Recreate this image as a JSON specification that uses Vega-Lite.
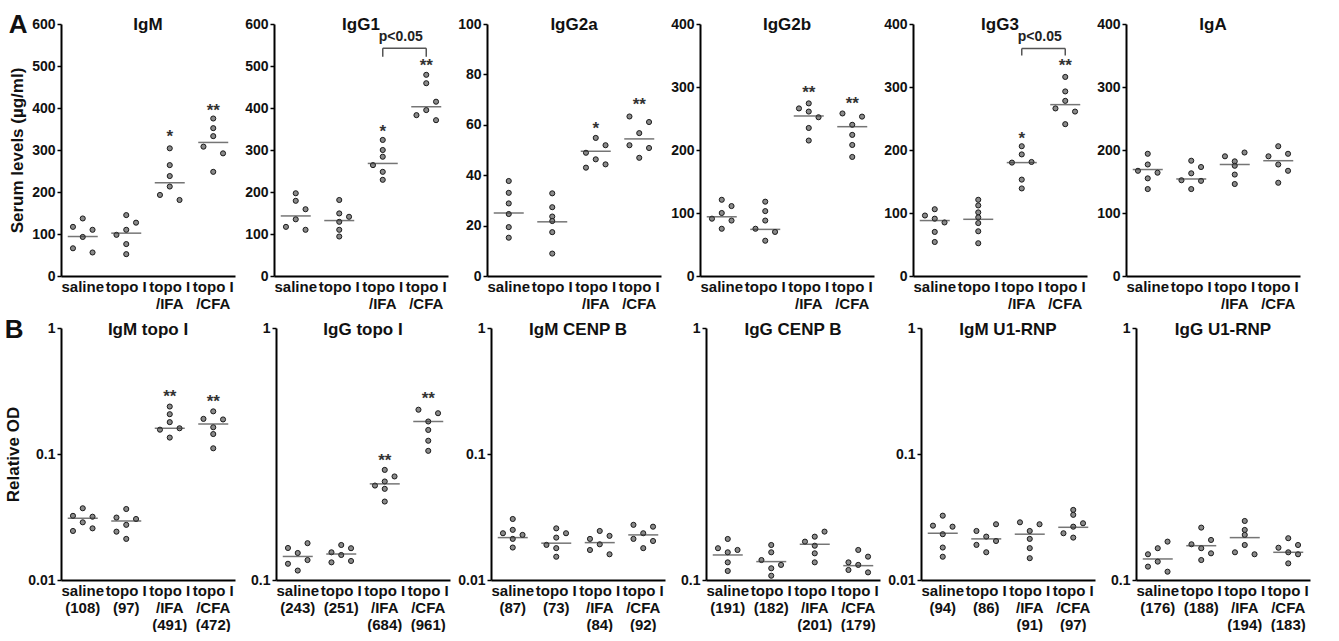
{
"$schema":"https://vega.github.io/schema/vega-lite/v6.json",
"padding":{"left":4,"top":12,"right":5,"bottom":0},
"background":"white",
"config":{
 "font":"Liberation Sans",
 "view":{"stroke":null},
 "title":{"fontSize":17,"fontWeight":"bold","color":"#111","font":"Liberation Sans"},
 "axis":{"domainColor":"#000","domainWidth":2,"grid":false,"labelFont":"Liberation Sans","labelFontWeight":"bold","labelColor":"#111","titleFont":"Liberation Sans","titleFontWeight":"bold","titleColor":"#111","titleFontSize":17,"labelOverlap":false,"labelBound":false},
 "axisX":{"ticks":false,"labelAngle":0,"labelFontSize":15,"labelPadding":3,"labelLineHeight":17,"labelBaseline":"top"},
 "axisY":{"tickSize":4,"tickWidth":1.5,"tickColor":"#000","labelFontSize":14,"labelPadding":2,"titlePadding":5}
},
"data":{"values":[
{"p":"IgM","k":"pt","g":"s","v":137,"j":1},{"p":"IgM","k":"pt","g":"s","v":117,"j":0},{"p":"IgM","k":"pt","g":"s","v":110,"j":2},{"p":"IgM","k":"pt","g":"s","v":93,"j":1},{"p":"IgM","k":"pt","g":"s","v":66,"j":0},{"p":"IgM","k":"pt","g":"s","v":56,"j":2},
{"p":"IgM","k":"pt","g":"t","v":145,"j":1},{"p":"IgM","k":"pt","g":"t","v":127,"j":2},{"p":"IgM","k":"pt","g":"t","v":110,"j":1},{"p":"IgM","k":"pt","g":"t","v":98,"j":0},{"p":"IgM","k":"pt","g":"t","v":76,"j":1},{"p":"IgM","k":"pt","g":"t","v":52,"j":1},
{"p":"IgM","k":"pt","g":"i","v":304,"j":1},{"p":"IgM","k":"pt","g":"i","v":264,"j":1},{"p":"IgM","k":"pt","g":"i","v":238,"j":1},{"p":"IgM","k":"pt","g":"i","v":213,"j":1},{"p":"IgM","k":"pt","g":"i","v":193,"j":0},{"p":"IgM","k":"pt","g":"i","v":181,"j":2},
{"p":"IgM","k":"pt","g":"c","v":375,"j":1},{"p":"IgM","k":"pt","g":"c","v":352,"j":1},{"p":"IgM","k":"pt","g":"c","v":333,"j":1},{"p":"IgM","k":"pt","g":"c","v":308,"j":0},{"p":"IgM","k":"pt","g":"c","v":292,"j":2},{"p":"IgM","k":"pt","g":"c","v":248,"j":1},
{"p":"IgM","k":"med","g":"s","v":94},{"p":"IgM","k":"med","g":"t","v":102},{"p":"IgM","k":"med","g":"i","v":222},{"p":"IgM","k":"med","g":"c","v":318},
{"p":"IgM","k":"star","g":"i","v":340,"s":"*"},{"p":"IgM","k":"star","g":"c","v":403,"s":"**"},

{"p":"IgG1","k":"pt","g":"s","v":197,"j":1},{"p":"IgG1","k":"pt","g":"s","v":179,"j":1},{"p":"IgG1","k":"pt","g":"s","v":159,"j":2},{"p":"IgG1","k":"pt","g":"s","v":135,"j":1},{"p":"IgG1","k":"pt","g":"s","v":117,"j":0},{"p":"IgG1","k":"pt","g":"s","v":110,"j":2},
{"p":"IgG1","k":"pt","g":"t","v":181,"j":1},{"p":"IgG1","k":"pt","g":"t","v":149,"j":1},{"p":"IgG1","k":"pt","g":"t","v":141,"j":2},{"p":"IgG1","k":"pt","g":"t","v":129,"j":1},{"p":"IgG1","k":"pt","g":"t","v":110,"j":1},{"p":"IgG1","k":"pt","g":"t","v":94,"j":1},
{"p":"IgG1","k":"pt","g":"i","v":324,"j":1},{"p":"IgG1","k":"pt","g":"i","v":300,"j":1},{"p":"IgG1","k":"pt","g":"i","v":284,"j":1},{"p":"IgG1","k":"pt","g":"i","v":264,"j":0},{"p":"IgG1","k":"pt","g":"i","v":248,"j":1},{"p":"IgG1","k":"pt","g":"i","v":229,"j":1},
{"p":"IgG1","k":"pt","g":"c","v":479,"j":1},{"p":"IgG1","k":"pt","g":"c","v":459,"j":1},{"p":"IgG1","k":"pt","g":"c","v":415,"j":2},{"p":"IgG1","k":"pt","g":"c","v":395,"j":1},{"p":"IgG1","k":"pt","g":"c","v":383,"j":0},{"p":"IgG1","k":"pt","g":"c","v":371,"j":2},
{"p":"IgG1","k":"med","g":"s","v":143},{"p":"IgG1","k":"med","g":"t","v":132},{"p":"IgG1","k":"med","g":"i","v":268},{"p":"IgG1","k":"med","g":"c","v":403},
{"p":"IgG1","k":"star","g":"i","v":353,"s":"*"},{"p":"IgG1","k":"star","g":"c","v":510,"s":"**"},
{"p":"IgG1","k":"bh","g":"i","g2":"c","v":542},{"p":"IgG1","k":"bv","g":"i","v":542,"v2":522},{"p":"IgG1","k":"bv","g":"c","v":542,"v2":522},{"p":"IgG1","k":"pv","g":"i","v":570,"s":"p<0.05"},

{"p":"IgG2a","k":"pt","g":"s","v":37.7,"j":1},{"p":"IgG2a","k":"pt","g":"s","v":33,"j":1},{"p":"IgG2a","k":"pt","g":"s","v":28.8,"j":1},{"p":"IgG2a","k":"pt","g":"s","v":24.6,"j":1},{"p":"IgG2a","k":"pt","g":"s","v":19.4,"j":1},{"p":"IgG2a","k":"pt","g":"s","v":15.2,"j":1},
{"p":"IgG2a","k":"pt","g":"t","v":32.8,"j":1},{"p":"IgG2a","k":"pt","g":"t","v":27.3,"j":1},{"p":"IgG2a","k":"pt","g":"t","v":23.6,"j":1},{"p":"IgG2a","k":"pt","g":"t","v":21.8,"j":1},{"p":"IgG2a","k":"pt","g":"t","v":17.4,"j":1},{"p":"IgG2a","k":"pt","g":"t","v":8.9,"j":1},
{"p":"IgG2a","k":"pt","g":"i","v":54.8,"j":1},{"p":"IgG2a","k":"pt","g":"i","v":51.9,"j":2},{"p":"IgG2a","k":"pt","g":"i","v":48.9,"j":0},{"p":"IgG2a","k":"pt","g":"i","v":46.3,"j":1},{"p":"IgG2a","k":"pt","g":"i","v":44.3,"j":2},{"p":"IgG2a","k":"pt","g":"i","v":43,"j":0},
{"p":"IgG2a","k":"pt","g":"c","v":63.3,"j":0},{"p":"IgG2a","k":"pt","g":"c","v":61.1,"j":2},{"p":"IgG2a","k":"pt","g":"c","v":56.7,"j":1},{"p":"IgG2a","k":"pt","g":"c","v":51.9,"j":0},{"p":"IgG2a","k":"pt","g":"c","v":50.8,"j":2},{"p":"IgG2a","k":"pt","g":"c","v":46.9,"j":1},
{"p":"IgG2a","k":"med","g":"s","v":25},{"p":"IgG2a","k":"med","g":"t","v":21.5},{"p":"IgG2a","k":"med","g":"i","v":49.5},{"p":"IgG2a","k":"med","g":"c","v":54.4},
{"p":"IgG2a","k":"star","g":"i","v":59.8,"s":"*"},{"p":"IgG2a","k":"star","g":"c","v":69.6,"s":"**"},

{"p":"IgG2b","k":"pt","g":"s","v":121,"j":1},{"p":"IgG2b","k":"pt","g":"s","v":111,"j":2},{"p":"IgG2b","k":"pt","g":"s","v":100,"j":1},{"p":"IgG2b","k":"pt","g":"s","v":91,"j":0},{"p":"IgG2b","k":"pt","g":"s","v":88,"j":2},{"p":"IgG2b","k":"pt","g":"s","v":75,"j":1},
{"p":"IgG2b","k":"pt","g":"t","v":118,"j":1},{"p":"IgG2b","k":"pt","g":"t","v":103,"j":1},{"p":"IgG2b","k":"pt","g":"t","v":88,"j":1},{"p":"IgG2b","k":"pt","g":"t","v":75,"j":0},{"p":"IgG2b","k":"pt","g":"t","v":70,"j":2},{"p":"IgG2b","k":"pt","g":"t","v":56,"j":1},
{"p":"IgG2b","k":"pt","g":"i","v":274,"j":1},{"p":"IgG2b","k":"pt","g":"i","v":266,"j":0},{"p":"IgG2b","k":"pt","g":"i","v":261,"j":1},{"p":"IgG2b","k":"pt","g":"i","v":252,"j":2},{"p":"IgG2b","k":"pt","g":"i","v":235,"j":1},{"p":"IgG2b","k":"pt","g":"i","v":215,"j":1},
{"p":"IgG2b","k":"pt","g":"c","v":258,"j":0},{"p":"IgG2b","k":"pt","g":"c","v":253,"j":2},{"p":"IgG2b","k":"pt","g":"c","v":240,"j":1},{"p":"IgG2b","k":"pt","g":"c","v":224,"j":1},{"p":"IgG2b","k":"pt","g":"c","v":208,"j":1},{"p":"IgG2b","k":"pt","g":"c","v":189,"j":1},
{"p":"IgG2b","k":"med","g":"s","v":94},{"p":"IgG2b","k":"med","g":"t","v":74},{"p":"IgG2b","k":"med","g":"i","v":254},{"p":"IgG2b","k":"med","g":"c","v":237},
{"p":"IgG2b","k":"star","g":"i","v":297,"s":"**"},{"p":"IgG2b","k":"star","g":"c","v":280,"s":"**"},

{"p":"IgG3","k":"pt","g":"s","v":106,"j":1},{"p":"IgG3","k":"pt","g":"s","v":96,"j":0},{"p":"IgG3","k":"pt","g":"s","v":91,"j":1},{"p":"IgG3","k":"pt","g":"s","v":85,"j":2},{"p":"IgG3","k":"pt","g":"s","v":70,"j":1},{"p":"IgG3","k":"pt","g":"s","v":54,"j":1},
{"p":"IgG3","k":"pt","g":"t","v":121,"j":1},{"p":"IgG3","k":"pt","g":"t","v":112,"j":1},{"p":"IgG3","k":"pt","g":"t","v":101,"j":1},{"p":"IgG3","k":"pt","g":"t","v":93,"j":1},{"p":"IgG3","k":"pt","g":"t","v":84,"j":1},{"p":"IgG3","k":"pt","g":"t","v":71,"j":1},{"p":"IgG3","k":"pt","g":"t","v":52,"j":1},
{"p":"IgG3","k":"pt","g":"i","v":206,"j":1},{"p":"IgG3","k":"pt","g":"i","v":193,"j":1},{"p":"IgG3","k":"pt","g":"i","v":180,"j":0},{"p":"IgG3","k":"pt","g":"i","v":181,"j":2},{"p":"IgG3","k":"pt","g":"i","v":153,"j":1},{"p":"IgG3","k":"pt","g":"i","v":139,"j":1},
{"p":"IgG3","k":"pt","g":"c","v":316,"j":1},{"p":"IgG3","k":"pt","g":"c","v":293,"j":1},{"p":"IgG3","k":"pt","g":"c","v":278,"j":1},{"p":"IgG3","k":"pt","g":"c","v":266,"j":0},{"p":"IgG3","k":"pt","g":"c","v":261,"j":2},{"p":"IgG3","k":"pt","g":"c","v":241,"j":1},
{"p":"IgG3","k":"med","g":"s","v":88},{"p":"IgG3","k":"med","g":"t","v":90},{"p":"IgG3","k":"med","g":"i","v":180},{"p":"IgG3","k":"med","g":"c","v":272},
{"p":"IgG3","k":"star","g":"i","v":224,"s":"*"},{"p":"IgG3","k":"star","g":"c","v":339,"s":"**"},
{"p":"IgG3","k":"bh","g":"i","g2":"c","v":361},{"p":"IgG3","k":"bv","g":"i","v":361,"v2":350},{"p":"IgG3","k":"bv","g":"c","v":361,"v2":350},{"p":"IgG3","k":"pv","g":"i","v":380,"s":"p<0.05"},

{"p":"IgA","k":"pt","g":"s","v":194,"j":1},{"p":"IgA","k":"pt","g":"s","v":177,"j":1},{"p":"IgA","k":"pt","g":"s","v":167,"j":0},{"p":"IgA","k":"pt","g":"s","v":164,"j":2},{"p":"IgA","k":"pt","g":"s","v":155,"j":1},{"p":"IgA","k":"pt","g":"s","v":138,"j":1},
{"p":"IgA","k":"pt","g":"t","v":183,"j":1},{"p":"IgA","k":"pt","g":"t","v":173,"j":2},{"p":"IgA","k":"pt","g":"t","v":163,"j":1},{"p":"IgA","k":"pt","g":"t","v":152,"j":0},{"p":"IgA","k":"pt","g":"t","v":151,"j":2},{"p":"IgA","k":"pt","g":"t","v":138,"j":1},
{"p":"IgA","k":"pt","g":"i","v":196,"j":2},{"p":"IgA","k":"pt","g":"i","v":190,"j":0},{"p":"IgA","k":"pt","g":"i","v":182,"j":1},{"p":"IgA","k":"pt","g":"i","v":175,"j":1},{"p":"IgA","k":"pt","g":"i","v":161,"j":1},{"p":"IgA","k":"pt","g":"i","v":146,"j":1},
{"p":"IgA","k":"pt","g":"c","v":206,"j":1},{"p":"IgA","k":"pt","g":"c","v":194,"j":2},{"p":"IgA","k":"pt","g":"c","v":190,"j":0},{"p":"IgA","k":"pt","g":"c","v":177,"j":1},{"p":"IgA","k":"pt","g":"c","v":167,"j":2},{"p":"IgA","k":"pt","g":"c","v":148,"j":1},
{"p":"IgA","k":"med","g":"s","v":169},{"p":"IgA","k":"med","g":"t","v":154},{"p":"IgA","k":"med","g":"i","v":177},{"p":"IgA","k":"med","g":"c","v":183},

{"p":"IgM topo I","k":"pt","g":"s","v":0.0371,"j":1},{"p":"IgM topo I","k":"pt","g":"s","v":0.0323,"j":0},{"p":"IgM topo I","k":"pt","g":"s","v":0.0318,"j":2},{"p":"IgM topo I","k":"pt","g":"s","v":0.0287,"j":1},{"p":"IgM topo I","k":"pt","g":"s","v":0.0257,"j":2},{"p":"IgM topo I","k":"pt","g":"s","v":0.0245,"j":0},
{"p":"IgM topo I","k":"pt","g":"t","v":0.0366,"j":1},{"p":"IgM topo I","k":"pt","g":"t","v":0.0313,"j":0},{"p":"IgM topo I","k":"pt","g":"t","v":0.0305,"j":2},{"p":"IgM topo I","k":"pt","g":"t","v":0.0274,"j":1},{"p":"IgM topo I","k":"pt","g":"t","v":0.0242,"j":0},{"p":"IgM topo I","k":"pt","g":"t","v":0.0212,"j":1},
{"p":"IgM topo I","k":"pt","g":"i","v":0.238,"j":1},{"p":"IgM topo I","k":"pt","g":"i","v":0.207,"j":1},{"p":"IgM topo I","k":"pt","g":"i","v":0.179,"j":1},{"p":"IgM topo I","k":"pt","g":"i","v":0.160,"j":2},{"p":"IgM topo I","k":"pt","g":"i","v":0.156,"j":0},{"p":"IgM topo I","k":"pt","g":"i","v":0.135,"j":1},
{"p":"IgM topo I","k":"pt","g":"c","v":0.218,"j":1},{"p":"IgM topo I","k":"pt","g":"c","v":0.190,"j":0},{"p":"IgM topo I","k":"pt","g":"c","v":0.188,"j":2},{"p":"IgM topo I","k":"pt","g":"c","v":0.163,"j":1},{"p":"IgM topo I","k":"pt","g":"c","v":0.144,"j":1},{"p":"IgM topo I","k":"pt","g":"c","v":0.111,"j":1},
{"p":"IgM topo I","k":"med","g":"s","v":0.0309},{"p":"IgM topo I","k":"med","g":"t","v":0.0294},{"p":"IgM topo I","k":"med","g":"i","v":0.160},{"p":"IgM topo I","k":"med","g":"c","v":0.173},
{"p":"IgM topo I","k":"star","g":"i","v":0.304,"s":"**"},{"p":"IgM topo I","k":"star","g":"c","v":0.278,"s":"**"},

{"p":"IgG topo I","k":"pt","g":"s","v":0.140,"j":2},{"p":"IgG topo I","k":"pt","g":"s","v":0.134,"j":0},{"p":"IgG topo I","k":"pt","g":"s","v":0.128,"j":1},{"p":"IgG topo I","k":"pt","g":"s","v":0.120,"j":2},{"p":"IgG topo I","k":"pt","g":"s","v":0.116,"j":0},{"p":"IgG topo I","k":"pt","g":"s","v":0.109,"j":1},
{"p":"IgG topo I","k":"pt","g":"t","v":0.1377,"j":1},{"p":"IgG topo I","k":"pt","g":"t","v":0.1337,"j":2},{"p":"IgG topo I","k":"pt","g":"t","v":0.1288,"j":0},{"p":"IgG topo I","k":"pt","g":"t","v":0.1257,"j":1},{"p":"IgG topo I","k":"pt","g":"t","v":0.119,"j":2},{"p":"IgG topo I","k":"pt","g":"t","v":0.1175,"j":0},
{"p":"IgG topo I","k":"pt","g":"i","v":0.2735,"j":1},{"p":"IgG topo I","k":"pt","g":"i","v":0.2576,"j":2},{"p":"IgG topo I","k":"pt","g":"i","v":0.246,"j":1},{"p":"IgG topo I","k":"pt","g":"i","v":0.237,"j":0},{"p":"IgG topo I","k":"pt","g":"i","v":0.230,"j":1},{"p":"IgG topo I","k":"pt","g":"i","v":0.2048,"j":1},
{"p":"IgG topo I","k":"pt","g":"c","v":0.474,"j":0},{"p":"IgG topo I","k":"pt","g":"c","v":0.459,"j":2},{"p":"IgG topo I","k":"pt","g":"c","v":0.4256,"j":1},{"p":"IgG topo I","k":"pt","g":"c","v":0.394,"j":1},{"p":"IgG topo I","k":"pt","g":"c","v":0.357,"j":1},{"p":"IgG topo I","k":"pt","g":"c","v":0.3255,"j":1},
{"p":"IgG topo I","k":"med","g":"s","v":0.124},{"p":"IgG topo I","k":"med","g":"t","v":0.1268},{"p":"IgG topo I","k":"med","g":"i","v":0.2407},{"p":"IgG topo I","k":"med","g":"c","v":0.4256},
{"p":"IgG topo I","k":"star","g":"i","v":0.309,"s":"**"},{"p":"IgG topo I","k":"star","g":"c","v":0.543,"s":"**"},

{"p":"IgM CENP B","k":"pt","g":"s","v":0.0305,"j":1},{"p":"IgM CENP B","k":"pt","g":"s","v":0.025,"j":1},{"p":"IgM CENP B","k":"pt","g":"s","v":0.0235,"j":0},{"p":"IgM CENP B","k":"pt","g":"s","v":0.0228,"j":2},{"p":"IgM CENP B","k":"pt","g":"s","v":0.0212,"j":1},{"p":"IgM CENP B","k":"pt","g":"s","v":0.0181,"j":1},
{"p":"IgM CENP B","k":"pt","g":"t","v":0.0257,"j":1},{"p":"IgM CENP B","k":"pt","g":"t","v":0.0235,"j":2},{"p":"IgM CENP B","k":"pt","g":"t","v":0.0217,"j":1},{"p":"IgM CENP B","k":"pt","g":"t","v":0.019,"j":0},{"p":"IgM CENP B","k":"pt","g":"t","v":0.0179,"j":1},{"p":"IgM CENP B","k":"pt","g":"t","v":0.0153,"j":1},
{"p":"IgM CENP B","k":"pt","g":"i","v":0.0245,"j":1},{"p":"IgM CENP B","k":"pt","g":"i","v":0.0224,"j":2},{"p":"IgM CENP B","k":"pt","g":"i","v":0.0212,"j":0},{"p":"IgM CENP B","k":"pt","g":"i","v":0.0192,"j":1},{"p":"IgM CENP B","k":"pt","g":"i","v":0.0173,"j":0},{"p":"IgM CENP B","k":"pt","g":"i","v":0.016,"j":2},
{"p":"IgM CENP B","k":"pt","g":"c","v":0.0274,"j":0},{"p":"IgM CENP B","k":"pt","g":"c","v":0.0265,"j":2},{"p":"IgM CENP B","k":"pt","g":"c","v":0.0235,"j":1},{"p":"IgM CENP B","k":"pt","g":"c","v":0.0212,"j":0},{"p":"IgM CENP B","k":"pt","g":"c","v":0.0204,"j":2},{"p":"IgM CENP B","k":"pt","g":"c","v":0.0179,"j":1},
{"p":"IgM CENP B","k":"med","g":"s","v":0.0217},{"p":"IgM CENP B","k":"med","g":"t","v":0.0196},{"p":"IgM CENP B","k":"med","g":"i","v":0.0198},{"p":"IgM CENP B","k":"med","g":"c","v":0.0228},

{"p":"IgG CENP B","k":"pt","g":"s","v":0.1455,"j":1},{"p":"IgG CENP B","k":"pt","g":"s","v":0.1337,"j":0},{"p":"IgG CENP B","k":"pt","g":"s","v":0.1316,"j":2},{"p":"IgG CENP B","k":"pt","g":"s","v":0.1288,"j":1},{"p":"IgG CENP B","k":"pt","g":"s","v":0.1175,"j":1},{"p":"IgG CENP B","k":"pt","g":"s","v":0.1086,"j":1},
{"p":"IgG CENP B","k":"pt","g":"t","v":0.1377,"j":1},{"p":"IgG CENP B","k":"pt","g":"t","v":0.1288,"j":1},{"p":"IgG CENP B","k":"pt","g":"t","v":0.120,"j":0},{"p":"IgG CENP B","k":"pt","g":"t","v":0.1148,"j":2},{"p":"IgG CENP B","k":"pt","g":"t","v":0.1113,"j":1},{"p":"IgG CENP B","k":"pt","g":"t","v":0.104,"j":1},
{"p":"IgG CENP B","k":"pt","g":"i","v":0.1556,"j":2},{"p":"IgG CENP B","k":"pt","g":"i","v":0.1486,"j":1},{"p":"IgG CENP B","k":"pt","g":"i","v":0.142,"j":0},{"p":"IgG CENP B","k":"pt","g":"i","v":0.1368,"j":1},{"p":"IgG CENP B","k":"pt","g":"i","v":0.1276,"j":1},{"p":"IgG CENP B","k":"pt","g":"i","v":0.1175,"j":1},
{"p":"IgG CENP B","k":"pt","g":"c","v":0.1316,"j":1},{"p":"IgG CENP B","k":"pt","g":"c","v":0.1238,"j":2},{"p":"IgG CENP B","k":"pt","g":"c","v":0.1175,"j":0},{"p":"IgG CENP B","k":"pt","g":"c","v":0.1148,"j":1},{"p":"IgG CENP B","k":"pt","g":"c","v":0.1096,"j":0},{"p":"IgG CENP B","k":"pt","g":"c","v":0.1072,"j":2},
{"p":"IgG CENP B","k":"med","g":"s","v":0.1257},{"p":"IgG CENP B","k":"med","g":"t","v":0.1183},{"p":"IgG CENP B","k":"med","g":"i","v":0.1386},{"p":"IgG CENP B","k":"med","g":"c","v":0.114},

{"p":"IgM U1-RNP","k":"pt","g":"s","v":0.0324,"j":1},{"p":"IgM U1-RNP","k":"pt","g":"s","v":0.027,"j":0},{"p":"IgM U1-RNP","k":"pt","g":"s","v":0.0265,"j":2},{"p":"IgM U1-RNP","k":"pt","g":"s","v":0.0231,"j":1},{"p":"IgM U1-RNP","k":"pt","g":"s","v":0.0181,"j":1},{"p":"IgM U1-RNP","k":"pt","g":"s","v":0.0153,"j":1},
{"p":"IgM U1-RNP","k":"pt","g":"t","v":0.0277,"j":2},{"p":"IgM U1-RNP","k":"pt","g":"t","v":0.0245,"j":0},{"p":"IgM U1-RNP","k":"pt","g":"t","v":0.0221,"j":1},{"p":"IgM U1-RNP","k":"pt","g":"t","v":0.0204,"j":2},{"p":"IgM U1-RNP","k":"pt","g":"t","v":0.019,"j":0},{"p":"IgM U1-RNP","k":"pt","g":"t","v":0.0166,"j":1},
{"p":"IgM U1-RNP","k":"pt","g":"i","v":0.0287,"j":0},{"p":"IgM U1-RNP","k":"pt","g":"i","v":0.0277,"j":2},{"p":"IgM U1-RNP","k":"pt","g":"i","v":0.0245,"j":1},{"p":"IgM U1-RNP","k":"pt","g":"i","v":0.0212,"j":1},{"p":"IgM U1-RNP","k":"pt","g":"i","v":0.0179,"j":1},{"p":"IgM U1-RNP","k":"pt","g":"i","v":0.0149,"j":1},
{"p":"IgM U1-RNP","k":"pt","g":"c","v":0.036,"j":1},{"p":"IgM U1-RNP","k":"pt","g":"c","v":0.0329,"j":1},{"p":"IgM U1-RNP","k":"pt","g":"c","v":0.0282,"j":2},{"p":"IgM U1-RNP","k":"pt","g":"c","v":0.0265,"j":1},{"p":"IgM U1-RNP","k":"pt","g":"c","v":0.0235,"j":0},{"p":"IgM U1-RNP","k":"pt","g":"c","v":0.0217,"j":1},
{"p":"IgM U1-RNP","k":"med","g":"s","v":0.0235},{"p":"IgM U1-RNP","k":"med","g":"t","v":0.0212},{"p":"IgM U1-RNP","k":"med","g":"i","v":0.0231},{"p":"IgM U1-RNP","k":"med","g":"c","v":0.0262},

{"p":"IgG U1-RNP","k":"pt","g":"s","v":0.142,"j":2},{"p":"IgG U1-RNP","k":"pt","g":"s","v":0.1337,"j":1},{"p":"IgG U1-RNP","k":"pt","g":"s","v":0.1265,"j":0},{"p":"IgG U1-RNP","k":"pt","g":"s","v":0.1183,"j":1},{"p":"IgG U1-RNP","k":"pt","g":"s","v":0.113,"j":0},{"p":"IgG U1-RNP","k":"pt","g":"s","v":0.1079,"j":2},
{"p":"IgG U1-RNP","k":"pt","g":"t","v":0.1614,"j":1},{"p":"IgG U1-RNP","k":"pt","g":"t","v":0.1442,"j":2},{"p":"IgG U1-RNP","k":"pt","g":"t","v":0.1386,"j":0},{"p":"IgG U1-RNP","k":"pt","g":"t","v":0.1337,"j":1},{"p":"IgG U1-RNP","k":"pt","g":"t","v":0.1276,"j":2},{"p":"IgG U1-RNP","k":"pt","g":"t","v":0.12,"j":1},
{"p":"IgG U1-RNP","k":"pt","g":"i","v":0.1715,"j":1},{"p":"IgG U1-RNP","k":"pt","g":"i","v":0.158,"j":1},{"p":"IgG U1-RNP","k":"pt","g":"i","v":0.151,"j":1},{"p":"IgG U1-RNP","k":"pt","g":"i","v":0.1377,"j":1},{"p":"IgG U1-RNP","k":"pt","g":"i","v":0.1288,"j":0},{"p":"IgG U1-RNP","k":"pt","g":"i","v":0.1265,"j":2},
{"p":"IgG U1-RNP","k":"pt","g":"c","v":0.1465,"j":1},{"p":"IgG U1-RNP","k":"pt","g":"c","v":0.1377,"j":2},{"p":"IgG U1-RNP","k":"pt","g":"c","v":0.1343,"j":0},{"p":"IgG U1-RNP","k":"pt","g":"c","v":0.1288,"j":1},{"p":"IgG U1-RNP","k":"pt","g":"c","v":0.1265,"j":2},{"p":"IgG U1-RNP","k":"pt","g":"c","v":0.1164,"j":1},
{"p":"IgG U1-RNP","k":"med","g":"s","v":0.1212},{"p":"IgG U1-RNP","k":"med","g":"t","v":0.1368},{"p":"IgG U1-RNP","k":"med","g":"i","v":0.1473},{"p":"IgG U1-RNP","k":"med","g":"c","v":0.1288}
]},
"spacing":6,
"vconcat":[
{"title":{"text":"A","anchor":"start","fontSize":26,"fontWeight":"bold","offset":-22,"color":"#111"},
 "bounds":"flush","spacing":39,
 "hconcat":[
  {"width":174,"height":252,"title":{"text":"IgM","offset":-17},"transform":[{"filter":"datum.p=='IgM'"}],
   "encoding":{"x":{"field":"g","type":"nominal","scale":{"domain":["s","t","i","c"],"paddingInner":0.1,"paddingOuter":0.05},"axis":{"title":null,"labelExpr":"datum.value=='s'?'saline':datum.value=='t'?'topo I':datum.value=='i'?['topo I','/IFA']:['topo I','/CFA']"}},
    "y":{"field":"v","type":"quantitative","scale":{"domain":[0,600],"nice":false},"axis":{"values":[0,100,200,300,400,500,600],"title":"Serum levels (µg/ml)"}}},
   "layer":[
    {"transform":[{"filter":"datum.k=='pt'"}],"mark":{"type":"circle","size":26,"color":"#8a8a8a","stroke":"#1a1a1a","strokeWidth":1,"opacity":1},"encoding":{"xOffset":{"field":"j","type":"nominal","scale":{"domain":[0,1,2],"paddingOuter":1}}}},
    {"transform":[{"filter":"datum.k=='med'"}],"mark":{"type":"tick","orient":"horizontal","size":30,"thickness":1.5,"color":"#3a3a3a"}},
    {"transform":[{"filter":"datum.k=='star'"}],"mark":{"type":"text","fontSize":17,"fontWeight":"bold","color":"#333","baseline":"middle","dy":4},"encoding":{"text":{"field":"s"}}}
   ]},
  {"width":174,"height":252,"title":{"text":"IgG1","offset":-17},"transform":[{"filter":"datum.p=='IgG1'"}],
   "encoding":{"x":{"field":"g","type":"nominal","scale":{"domain":["s","t","i","c"],"paddingInner":0.1,"paddingOuter":0.05},"axis":{"title":null,"labelExpr":"datum.value=='s'?'saline':datum.value=='t'?'topo I':datum.value=='i'?['topo I','/IFA']:['topo I','/CFA']"}},
    "y":{"field":"v","type":"quantitative","scale":{"domain":[0,600],"nice":false},"axis":{"values":[0,100,200,300,400,500,600],"title":null}}},
   "layer":[
    {"transform":[{"filter":"datum.k=='pt'"}],"mark":{"type":"circle","size":26,"color":"#8a8a8a","stroke":"#1a1a1a","strokeWidth":1,"opacity":1},"encoding":{"xOffset":{"field":"j","type":"nominal","scale":{"domain":[0,1,2],"paddingOuter":1}}}},
    {"transform":[{"filter":"datum.k=='med'"}],"mark":{"type":"tick","orient":"horizontal","size":30,"thickness":1.5,"color":"#3a3a3a"}},
    {"transform":[{"filter":"datum.k=='star'"}],"mark":{"type":"text","fontSize":17,"fontWeight":"bold","color":"#333","baseline":"middle","dy":4},"encoding":{"text":{"field":"s"}}},
    {"transform":[{"filter":"datum.k=='bh'"}],"mark":{"type":"rule","color":"#555","strokeWidth":1.5},"encoding":{"x2":{"field":"g2"}}},
    {"transform":[{"filter":"datum.k=='bv'"}],"mark":{"type":"rule","color":"#555","strokeWidth":1.5},"encoding":{"y2":{"field":"v2"}}},
    {"transform":[{"filter":"datum.k=='pv'"}],"mark":{"type":"text","fontSize":14,"fontWeight":"bold","color":"#222","align":"left","baseline":"middle","dx":-4},"encoding":{"text":{"field":"s"}}}
   ]},
  {"width":174,"height":252,"title":{"text":"IgG2a","offset":-17},"transform":[{"filter":"datum.p=='IgG2a'"}],
   "encoding":{"x":{"field":"g","type":"nominal","scale":{"domain":["s","t","i","c"],"paddingInner":0.1,"paddingOuter":0.05},"axis":{"title":null,"labelExpr":"datum.value=='s'?'saline':datum.value=='t'?'topo I':datum.value=='i'?['topo I','/IFA']:['topo I','/CFA']"}},
    "y":{"field":"v","type":"quantitative","scale":{"domain":[0,100],"nice":false},"axis":{"values":[0,20,40,60,80,100],"title":null}}},
   "layer":[
    {"transform":[{"filter":"datum.k=='pt'"}],"mark":{"type":"circle","size":26,"color":"#8a8a8a","stroke":"#1a1a1a","strokeWidth":1,"opacity":1},"encoding":{"xOffset":{"field":"j","type":"nominal","scale":{"domain":[0,1,2],"paddingOuter":1}}}},
    {"transform":[{"filter":"datum.k=='med'"}],"mark":{"type":"tick","orient":"horizontal","size":30,"thickness":1.5,"color":"#3a3a3a"}},
    {"transform":[{"filter":"datum.k=='star'"}],"mark":{"type":"text","fontSize":17,"fontWeight":"bold","color":"#333","baseline":"middle","dy":4},"encoding":{"text":{"field":"s"}}}
   ]},
  {"width":174,"height":252,"title":{"text":"IgG2b","offset":-17},"transform":[{"filter":"datum.p=='IgG2b'"}],
   "encoding":{"x":{"field":"g","type":"nominal","scale":{"domain":["s","t","i","c"],"paddingInner":0.1,"paddingOuter":0.05},"axis":{"title":null,"labelExpr":"datum.value=='s'?'saline':datum.value=='t'?'topo I':datum.value=='i'?['topo I','/IFA']:['topo I','/CFA']"}},
    "y":{"field":"v","type":"quantitative","scale":{"domain":[0,400],"nice":false},"axis":{"values":[0,100,200,300,400],"title":null}}},
   "layer":[
    {"transform":[{"filter":"datum.k=='pt'"}],"mark":{"type":"circle","size":26,"color":"#8a8a8a","stroke":"#1a1a1a","strokeWidth":1,"opacity":1},"encoding":{"xOffset":{"field":"j","type":"nominal","scale":{"domain":[0,1,2],"paddingOuter":1}}}},
    {"transform":[{"filter":"datum.k=='med'"}],"mark":{"type":"tick","orient":"horizontal","size":30,"thickness":1.5,"color":"#3a3a3a"}},
    {"transform":[{"filter":"datum.k=='star'"}],"mark":{"type":"text","fontSize":17,"fontWeight":"bold","color":"#333","baseline":"middle","dy":4},"encoding":{"text":{"field":"s"}}}
   ]},
  {"width":174,"height":252,"title":{"text":"IgG3","offset":-17},"transform":[{"filter":"datum.p=='IgG3'"}],
   "encoding":{"x":{"field":"g","type":"nominal","scale":{"domain":["s","t","i","c"],"paddingInner":0.1,"paddingOuter":0.05},"axis":{"title":null,"labelExpr":"datum.value=='s'?'saline':datum.value=='t'?'topo I':datum.value=='i'?['topo I','/IFA']:['topo I','/CFA']"}},
    "y":{"field":"v","type":"quantitative","scale":{"domain":[0,400],"nice":false},"axis":{"values":[0,100,200,300,400],"title":null}}},
   "layer":[
    {"transform":[{"filter":"datum.k=='pt'"}],"mark":{"type":"circle","size":26,"color":"#8a8a8a","stroke":"#1a1a1a","strokeWidth":1,"opacity":1},"encoding":{"xOffset":{"field":"j","type":"nominal","scale":{"domain":[0,1,2],"paddingOuter":1}}}},
    {"transform":[{"filter":"datum.k=='med'"}],"mark":{"type":"tick","orient":"horizontal","size":30,"thickness":1.5,"color":"#3a3a3a"}},
    {"transform":[{"filter":"datum.k=='star'"}],"mark":{"type":"text","fontSize":17,"fontWeight":"bold","color":"#333","baseline":"middle","dy":4},"encoding":{"text":{"field":"s"}}},
    {"transform":[{"filter":"datum.k=='bh'"}],"mark":{"type":"rule","color":"#555","strokeWidth":1.5},"encoding":{"x2":{"field":"g2"}}},
    {"transform":[{"filter":"datum.k=='bv'"}],"mark":{"type":"rule","color":"#555","strokeWidth":1.5},"encoding":{"y2":{"field":"v2"}}},
    {"transform":[{"filter":"datum.k=='pv'"}],"mark":{"type":"text","fontSize":14,"fontWeight":"bold","color":"#222","align":"left","baseline":"middle","dx":-4},"encoding":{"text":{"field":"s"}}}
   ]},
  {"width":174,"height":252,"title":{"text":"IgA","offset":-17},"transform":[{"filter":"datum.p=='IgA'"}],
   "encoding":{"x":{"field":"g","type":"nominal","scale":{"domain":["s","t","i","c"],"paddingInner":0.1,"paddingOuter":0.05},"axis":{"title":null,"labelExpr":"datum.value=='s'?'saline':datum.value=='t'?'topo I':datum.value=='i'?['topo I','/IFA']:['topo I','/CFA']"}},
    "y":{"field":"v","type":"quantitative","scale":{"domain":[0,400],"nice":false},"axis":{"values":[0,100,200,300,400],"title":null}}},
   "layer":[
    {"transform":[{"filter":"datum.k=='pt'"}],"mark":{"type":"circle","size":26,"color":"#8a8a8a","stroke":"#1a1a1a","strokeWidth":1,"opacity":1},"encoding":{"xOffset":{"field":"j","type":"nominal","scale":{"domain":[0,1,2],"paddingOuter":1}}}},
    {"transform":[{"filter":"datum.k=='med'"}],"mark":{"type":"tick","orient":"horizontal","size":30,"thickness":1.5,"color":"#3a3a3a"}}
   ]}
 ]},
{"title":{"text":"B","anchor":"start","fontSize":26,"fontWeight":"bold","offset":-22,"color":"#111"},
 "bounds":"flush","spacing":41,
 "hconcat":[
  {"width":174,"height":252,"title":{"text":"IgM topo I","offset":-18},"transform":[{"filter":"datum.p=='IgM topo I'"}],
   "encoding":{"x":{"field":"g","type":"nominal","scale":{"domain":["s","t","i","c"],"paddingInner":0.1,"paddingOuter":0.05},"axis":{"title":null,"labelExpr":"datum.value=='s'?['saline','(108)']:datum.value=='t'?['topo I','(97)']:datum.value=='i'?['topo I','/IFA','(491)']:['topo I','/CFA','(472)']"}},
    "y":{"field":"v","type":"quantitative","scale":{"type":"log","domain":[0.01,1],"nice":false},"axis":{"values":[0.01,0.1,1],"format":"~g","title":"Relative OD"}}},
   "layer":[
    {"transform":[{"filter":"datum.k=='pt'"}],"mark":{"type":"circle","size":26,"color":"#8a8a8a","stroke":"#1a1a1a","strokeWidth":1,"opacity":1},"encoding":{"xOffset":{"field":"j","type":"nominal","scale":{"domain":[0,1,2],"paddingOuter":1}}}},
    {"transform":[{"filter":"datum.k=='med'"}],"mark":{"type":"tick","orient":"horizontal","size":30,"thickness":1.5,"color":"#3a3a3a"}},
    {"transform":[{"filter":"datum.k=='star'"}],"mark":{"type":"text","fontSize":17,"fontWeight":"bold","color":"#333","baseline":"middle","dy":4},"encoding":{"text":{"field":"s"}}}
   ]},
  {"width":174,"height":252,"title":{"text":"IgG topo I","offset":-18},"transform":[{"filter":"datum.p=='IgG topo I'"}],
   "encoding":{"x":{"field":"g","type":"nominal","scale":{"domain":["s","t","i","c"],"paddingInner":0.1,"paddingOuter":0.05},"axis":{"title":null,"labelExpr":"datum.value=='s'?['saline','(243)']:datum.value=='t'?['topo I','(251)']:datum.value=='i'?['topo I','/IFA','(684)']:['topo I','/CFA','(961)']"}},
    "y":{"field":"v","type":"quantitative","scale":{"type":"log","domain":[0.1,1],"nice":false},"axis":{"values":[0.1,1],"format":"~g","title":null}}},
   "layer":[
    {"transform":[{"filter":"datum.k=='pt'"}],"mark":{"type":"circle","size":26,"color":"#8a8a8a","stroke":"#1a1a1a","strokeWidth":1,"opacity":1},"encoding":{"xOffset":{"field":"j","type":"nominal","scale":{"domain":[0,1,2],"paddingOuter":1}}}},
    {"transform":[{"filter":"datum.k=='med'"}],"mark":{"type":"tick","orient":"horizontal","size":30,"thickness":1.5,"color":"#3a3a3a"}},
    {"transform":[{"filter":"datum.k=='star'"}],"mark":{"type":"text","fontSize":17,"fontWeight":"bold","color":"#333","baseline":"middle","dy":4},"encoding":{"text":{"field":"s"}}}
   ]},
  {"width":174,"height":252,"title":{"text":"IgM CENP B","offset":-18},"transform":[{"filter":"datum.p=='IgM CENP B'"}],
   "encoding":{"x":{"field":"g","type":"nominal","scale":{"domain":["s","t","i","c"],"paddingInner":0.1,"paddingOuter":0.05},"axis":{"title":null,"labelExpr":"datum.value=='s'?['saline','(87)']:datum.value=='t'?['topo I','(73)']:datum.value=='i'?['topo I','/IFA','(84)']:['topo I','/CFA','(92)']"}},
    "y":{"field":"v","type":"quantitative","scale":{"type":"log","domain":[0.01,1],"nice":false},"axis":{"values":[0.01,0.1,1],"format":"~g","title":null}}},
   "layer":[
    {"transform":[{"filter":"datum.k=='pt'"}],"mark":{"type":"circle","size":26,"color":"#8a8a8a","stroke":"#1a1a1a","strokeWidth":1,"opacity":1},"encoding":{"xOffset":{"field":"j","type":"nominal","scale":{"domain":[0,1,2],"paddingOuter":1}}}},
    {"transform":[{"filter":"datum.k=='med'"}],"mark":{"type":"tick","orient":"horizontal","size":30,"thickness":1.5,"color":"#3a3a3a"}}
   ]},
  {"width":174,"height":252,"title":{"text":"IgG CENP B","offset":-18},"transform":[{"filter":"datum.p=='IgG CENP B'"}],
   "encoding":{"x":{"field":"g","type":"nominal","scale":{"domain":["s","t","i","c"],"paddingInner":0.1,"paddingOuter":0.05},"axis":{"title":null,"labelExpr":"datum.value=='s'?['saline','(191)']:datum.value=='t'?['topo I','(182)']:datum.value=='i'?['topo I','/IFA','(201)']:['topo I','/CFA','(179)']"}},
    "y":{"field":"v","type":"quantitative","scale":{"type":"log","domain":[0.1,1],"nice":false},"axis":{"values":[0.1,1],"format":"~g","title":null}}},
   "layer":[
    {"transform":[{"filter":"datum.k=='pt'"}],"mark":{"type":"circle","size":26,"color":"#8a8a8a","stroke":"#1a1a1a","strokeWidth":1,"opacity":1},"encoding":{"xOffset":{"field":"j","type":"nominal","scale":{"domain":[0,1,2],"paddingOuter":1}}}},
    {"transform":[{"filter":"datum.k=='med'"}],"mark":{"type":"tick","orient":"horizontal","size":30,"thickness":1.5,"color":"#3a3a3a"}}
   ]},
  {"width":174,"height":252,"title":{"text":"IgM U1-RNP","offset":-18},"transform":[{"filter":"datum.p=='IgM U1-RNP'"}],
   "encoding":{"x":{"field":"g","type":"nominal","scale":{"domain":["s","t","i","c"],"paddingInner":0.1,"paddingOuter":0.05},"axis":{"title":null,"labelExpr":"datum.value=='s'?['saline','(94)']:datum.value=='t'?['topo I','(86)']:datum.value=='i'?['topo I','/IFA','(91)']:['topo I','/CFA','(97)']"}},
    "y":{"field":"v","type":"quantitative","scale":{"type":"log","domain":[0.01,1],"nice":false},"axis":{"values":[0.01,0.1,1],"format":"~g","title":null}}},
   "layer":[
    {"transform":[{"filter":"datum.k=='pt'"}],"mark":{"type":"circle","size":26,"color":"#8a8a8a","stroke":"#1a1a1a","strokeWidth":1,"opacity":1},"encoding":{"xOffset":{"field":"j","type":"nominal","scale":{"domain":[0,1,2],"paddingOuter":1}}}},
    {"transform":[{"filter":"datum.k=='med'"}],"mark":{"type":"tick","orient":"horizontal","size":30,"thickness":1.5,"color":"#3a3a3a"}}
   ]},
  {"width":174,"height":252,"title":{"text":"IgG U1-RNP","offset":-18},"transform":[{"filter":"datum.p=='IgG U1-RNP'"}],
   "encoding":{"x":{"field":"g","type":"nominal","scale":{"domain":["s","t","i","c"],"paddingInner":0.1,"paddingOuter":0.05},"axis":{"title":null,"labelExpr":"datum.value=='s'?['saline','(176)']:datum.value=='t'?['topo I','(188)']:datum.value=='i'?['topo I','/IFA','(194)']:['topo I','/CFA','(183)']"}},
    "y":{"field":"v","type":"quantitative","scale":{"type":"log","domain":[0.1,1],"nice":false},"axis":{"values":[0.1,1],"format":"~g","title":null}}},
   "layer":[
    {"transform":[{"filter":"datum.k=='pt'"}],"mark":{"type":"circle","size":26,"color":"#8a8a8a","stroke":"#1a1a1a","strokeWidth":1,"opacity":1},"encoding":{"xOffset":{"field":"j","type":"nominal","scale":{"domain":[0,1,2],"paddingOuter":1}}}},
    {"transform":[{"filter":"datum.k=='med'"}],"mark":{"type":"tick","orient":"horizontal","size":30,"thickness":1.5,"color":"#3a3a3a"}}
   ]}
 ]}
]
}
